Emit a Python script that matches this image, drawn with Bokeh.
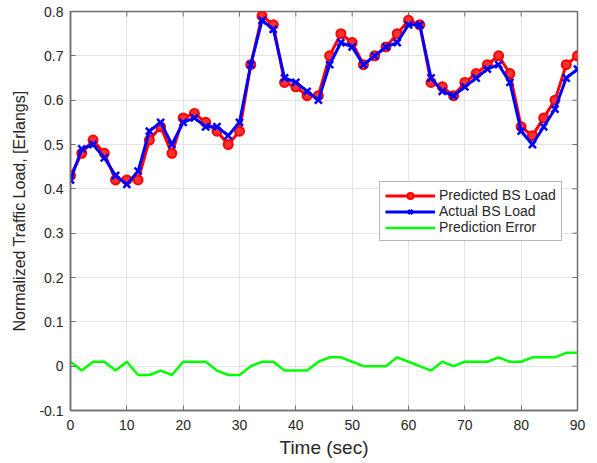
import math
from bokeh.plotting import figure
from bokeh.models import Range1d, FixedTicker, CustomJSTickFormatter, Legend
from bokeh.embed import file_html
from bokeh.resources import INLINE

time_sec = list(range(0, 91, 2))
predicted = [0.43, 0.48, 0.51, 0.48, 0.42, 0.42, 0.42, 0.51, 0.54, 0.48,
             0.56, 0.57, 0.55, 0.53, 0.50, 0.53, 0.68, 0.79, 0.77, 0.64,
             0.63, 0.61, 0.61, 0.70, 0.75, 0.73, 0.68, 0.70, 0.72, 0.75,
             0.78, 0.77, 0.64, 0.63, 0.61, 0.64, 0.66, 0.68, 0.70, 0.66,
             0.54, 0.52, 0.56, 0.60, 0.68, 0.70]
actual = [0.42, 0.49, 0.50, 0.47, 0.43, 0.41, 0.44, 0.53, 0.55, 0.50,
          0.55, 0.56, 0.54, 0.54, 0.52, 0.55, 0.68, 0.78, 0.76, 0.65,
          0.64, 0.62, 0.60, 0.68, 0.73, 0.72, 0.68, 0.70, 0.72, 0.73,
          0.77, 0.77, 0.65, 0.62, 0.61, 0.63, 0.65, 0.67, 0.68, 0.64,
          0.53, 0.50, 0.54, 0.58, 0.65, 0.67]
error = [0.01, -0.01, 0.01, 0.01, -0.01, 0.01, -0.02, -0.02, -0.01, -0.02,
         0.01, 0.01, 0.01, -0.01, -0.02, -0.02, 0.00, 0.01, 0.01, -0.01,
         -0.01, -0.01, 0.01, 0.02, 0.02, 0.01, 0.00, 0.00, 0.00, 0.02,
         0.01, 0.00, -0.01, 0.01, 0.00, 0.01, 0.01, 0.01, 0.02, 0.01,
         0.01, 0.02, 0.02, 0.02, 0.03, 0.03]

x_ticks = [0, 10, 20, 30, 40, 50, 60, 70, 80, 90]
y_ticks = [-0.1, 0.0, 0.1, 0.2, 0.3, 0.4, 0.5, 0.6, 0.7, 0.8]

FONT = "Liberation Sans"
AX = "#707070"
TXT = "#262626"

p = figure(width=589, height=460, output_backend="svg", toolbar_location=None,
           x_range=Range1d(x_ticks[0], x_ticks[-1]), y_range=Range1d(y_ticks[0], y_ticks[-1]),
           min_border_left=70, min_border_right=12, min_border_top=11, min_border_bottom=48)
p.background_fill_color = "white"
p.border_fill_color = "white"
p.outline_line_color = AX
p.outline_line_width = 1.5

fmt = CustomJSTickFormatter(code="var s = tick.toFixed(1); if (s.endsWith('.0')) s = s.slice(0, -2); if (s == '-0') s = '0'; return s;")

for ax, ticks in ((p.xaxis[0], x_ticks), (p.yaxis[0], y_ticks)):
    ax.ticker = FixedTicker(ticks=ticks)
    ax.formatter = fmt
    ax.major_tick_in = 5
    ax.major_tick_out = 0
    ax.minor_tick_line_color = None
    ax.axis_line_color = AX
    ax.axis_line_width = 1.5
    ax.major_tick_line_color = AX
    ax.major_label_text_font = FONT
    ax.major_label_text_font_size = "14px"
    ax.major_label_text_color = TXT
    ax.axis_label_text_font = FONT
    ax.axis_label_text_font_style = "normal"
    ax.axis_label_text_color = TXT

p.xaxis.axis_label = "Time (sec)"
p.yaxis.axis_label = "Normalized Traffic Load, [Erlangs]"
p.xaxis.axis_label_text_font_size = "19px"
p.yaxis.axis_label_text_font_size = "16px"
p.xaxis.major_label_standoff = 9
p.xaxis.axis_label_standoff = 4
p.yaxis.major_label_standoff = 7
p.yaxis.axis_label_standoff = 8

p.xgrid.ticker = FixedTicker(ticks=x_ticks)
p.ygrid.ticker = FixedTicker(ticks=y_ticks)
p.grid.grid_line_color = "#e4e4e4"
p.grid.grid_line_width = 1

# inward ticks on the top and right edges of the box
p.scatter(x_ticks, [y_ticks[-1]] * len(x_ticks), marker="dash", angle=math.pi / 2,
          size=10, line_color=AX, line_width=1)
p.scatter([x_ticks[-1]] * len(y_ticks), y_ticks, marker="dash",
          size=10, line_color=AX, line_width=1)

r1 = p.line(time_sec, predicted, line_color="#ff0000", line_width=3)
r1m = p.scatter(time_sec, predicted, marker="circle", size=9, line_color="#ff0000",
                fill_color="#ff3030", line_width=2)
r2 = p.line(time_sec, actual, line_color="#0000ff", line_width=3)
r2m = p.scatter(time_sec, actual, marker="x", size=10, line_color="#0000ff", line_width=2.5)
r3 = p.line(time_sec, error, line_color="#00ff00", line_width=2.5)

legend = Legend(items=[("Predicted BS Load", [r1, r1m]),
                       ("Actual BS Load", [r2, r2m]),
                       ("Prediction Error", [r3])],
                location=(309, 169))
legend.label_text_font = FONT
legend.label_text_font_size = "14px"
legend.label_text_color = TXT
legend.glyph_width = 50
legend.glyph_height = 15
legend.label_height = 15
legend.spacing = 0
legend.padding = 5
legend.margin = 0
legend.label_standoff = 4
legend.border_line_color = AX
legend.border_line_width = 1.5
legend.background_fill_color = "white"
legend.background_fill_alpha = 1
p.add_layout(legend, "center")

open("out.html", "w").write(file_html(p, INLINE))
